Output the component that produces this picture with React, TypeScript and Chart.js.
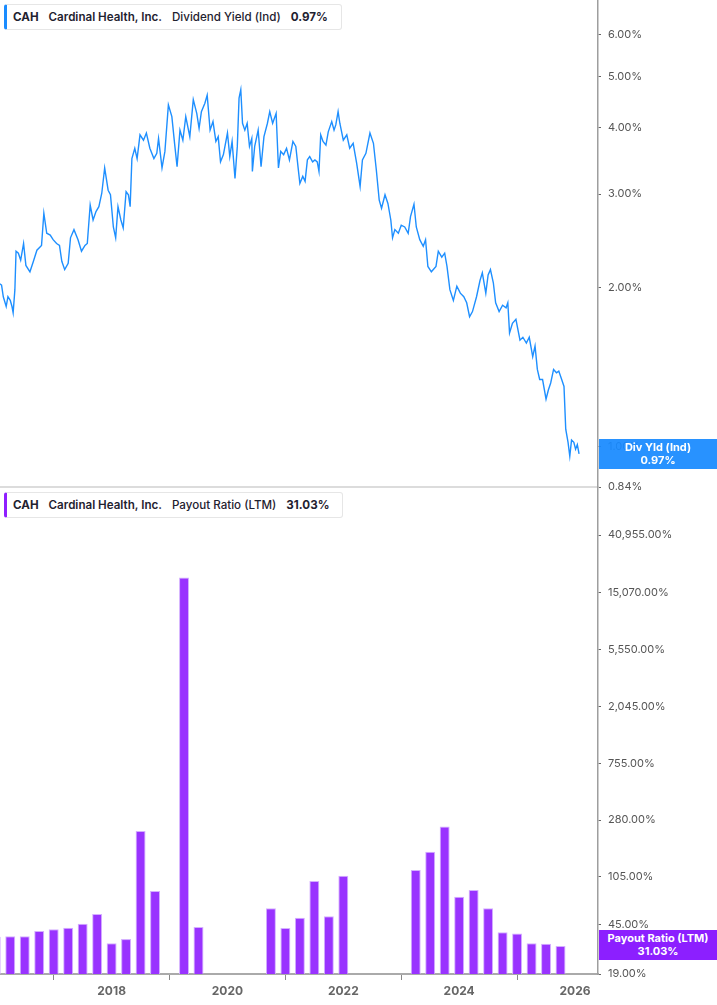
import React, { useEffect, useRef } from "react";
import { Chart, registerables } from "chart.js";

Chart.register(...registerables);

// Dividend yield (Ind), %
const yieldDates = [
  2016.07, 2016.1, 2016.13, 2016.18, 2016.21, 2016.25, 2016.28, 2016.3, 2016.33, 2016.35,
  2016.39, 2016.43, 2016.48, 2016.52, 2016.59, 2016.65, 2016.71, 2016.79, 2016.83, 2016.88,
  2016.94, 2016.99, 2017.05, 2017.1, 2017.14, 2017.19, 2017.25, 2017.29, 2017.35, 2017.42,
  2017.48, 2017.54, 2017.58, 2017.63, 2017.68, 2017.73, 2017.78, 2017.83, 2017.88, 2017.94,
  2017.98, 2018.03, 2018.07, 2018.11, 2018.16, 2018.2, 2018.25, 2018.29, 2018.32, 2018.35,
  2018.4, 2018.44, 2018.49, 2018.55, 2018.6, 2018.66, 2018.73, 2018.78, 2018.81, 2018.87,
  2018.92, 2018.98, 2019.04, 2019.09, 2019.13, 2019.18, 2019.23, 2019.28, 2019.35, 2019.41,
  2019.47, 2019.51, 2019.55, 2019.61, 2019.65, 2019.7, 2019.75, 2019.8, 2019.84, 2019.88,
  2019.93, 2020.0, 2020.04, 2020.08, 2020.13, 2020.17, 2020.2, 2020.23, 2020.26, 2020.3,
  2020.34, 2020.38, 2020.42, 2020.43, 2020.47, 2020.53, 2020.58, 2020.63, 2020.69, 2020.73,
  2020.78, 2020.84, 2020.88, 2020.92, 2020.97, 2021.02, 2021.07, 2021.13, 2021.18, 2021.22,
  2021.25, 2021.3, 2021.34, 2021.38, 2021.42, 2021.47, 2021.51, 2021.55, 2021.58, 2021.61,
  2021.65, 2021.7, 2021.74, 2021.8, 2021.84, 2021.87, 2021.91, 2021.94, 2022.0, 2022.06,
  2022.11, 2022.17, 2022.23, 2022.29, 2022.33, 2022.39, 2022.46, 2022.52, 2022.57, 2022.62,
  2022.66, 2022.72, 2022.77, 2022.82, 2022.85, 2022.89, 2022.95, 2023.0, 2023.06, 2023.12,
  2023.16, 2023.22, 2023.26, 2023.32, 2023.38, 2023.42, 2023.46, 2023.52, 2023.6, 2023.64,
  2023.7, 2023.75, 2023.79, 2023.84, 2023.9, 2023.96, 2024.02, 2024.08, 2024.13, 2024.18,
  2024.23, 2024.3, 2024.36, 2024.4, 2024.46, 2024.5, 2024.54, 2024.59, 2024.63, 2024.69,
  2024.75, 2024.81, 2024.84, 2024.87, 2024.92, 2024.98, 2025.05, 2025.1, 2025.16, 2025.21,
  2025.27, 2025.31, 2025.35, 2025.39, 2025.44, 2025.5, 2025.54, 2025.58, 2025.63, 2025.68,
  2025.72, 2025.77, 2025.81, 2025.84, 2025.88, 2025.91, 2025.94, 2025.98, 2026.01, 2026.04,
  2026.07,
];
const yieldValues = [
  2.03, 2.02, 1.92, 1.84, 1.92, 1.89, 1.84, 1.79, 1.98, 2.34,
  2.32, 2.25, 2.42, 2.2, 2.14, 2.24, 2.35, 2.4, 2.76, 2.53,
  2.51, 2.46, 2.42, 2.4, 2.24, 2.16, 2.22, 2.48, 2.57, 2.46,
  2.34, 2.4, 2.42, 2.86, 2.68, 2.78, 2.84, 3.01, 3.36, 3.05,
  2.99, 2.6, 2.48, 2.84, 2.68, 2.59, 3.03, 2.99, 2.84, 3.5,
  3.66, 3.5, 3.88, 3.79, 3.91, 3.66, 3.5, 3.58, 3.82, 3.36,
  3.61, 4.42, 4.2, 3.71, 3.38, 3.96, 3.79, 4.2, 3.85, 4.52,
  4.26, 3.99, 4.29, 4.45, 4.61, 3.96, 4.11, 3.77, 3.85, 3.45,
  3.56, 3.91, 3.53, 3.77, 3.21, 3.69, 4.55, 4.72, 4.08, 3.96,
  4.08, 3.69, 3.82, 3.31, 3.69, 3.96, 3.38, 3.85, 4.08, 4.29,
  4.08, 4.26, 3.36, 3.61, 3.56, 3.66, 3.48, 3.77, 3.69, 3.36,
  3.14, 3.24, 3.17, 3.48, 3.53, 3.45, 3.48, 3.45, 3.31, 3.88,
  3.77, 3.71, 3.93, 4.11, 3.96, 4.05, 4.29, 4.08, 3.79, 3.88,
  3.66, 3.74, 3.43, 3.1, 3.48, 3.58, 3.91, 3.74, 3.33, 2.92,
  2.82, 2.99, 2.88, 2.68, 2.48, 2.57, 2.53, 2.62, 2.6, 2.53,
  2.72, 2.87, 2.6, 2.46, 2.39, 2.46, 2.19, 2.14, 2.19, 2.34,
  2.28, 2.32, 2.19, 1.98, 1.89, 2.01, 1.95, 1.92, 1.87, 1.76,
  1.8, 1.92, 2.06, 2.13, 1.95, 2.11, 2.16, 2.04, 1.87, 1.8,
  1.85, 1.83, 1.87, 1.64, 1.71, 1.74, 1.59, 1.61, 1.57, 1.61,
  1.48, 1.55, 1.4, 1.34, 1.34, 1.23, 1.28, 1.32, 1.4, 1.38,
  1.39, 1.34, 1.3, 1.08, 1.02, 0.96, 1.03, 1.02, 0.99, 1.01,
  0.97,
];

// Payout ratio (LTM), % — one bar per calendar quarter end, null = no bar
const payoutQuarters = [
  2016.0, 2016.25, 2016.5, 2016.75, 2017.0, 2017.25, 2017.5, 2017.75,
  2018.0, 2018.25, 2018.5, 2018.75, 2019.0, 2019.25, 2019.5, 2019.75,
  2020.0, 2020.25, 2020.5, 2020.75, 2021.0, 2021.25, 2021.5, 2021.75,
  2022.0, 2022.25, 2022.5, 2022.75, 2023.0, 2023.25, 2023.5, 2023.75,
  2024.0, 2024.25, 2024.5, 2024.75, 2025.0, 2025.25, 2025.5, 2025.75,
];
const payoutValues = [
  36.5, 36.8, 36.8, 40.3, 41.5, 42.7, 45.8, 54.2,
  32.5, 35.0, 231.5, 81.1, null, 19523, 43.2, null,
  null, null, null, 59.9, 42.5, 50.8, 96.6, 52.1,
  106.0, null, null, null, null, 117.1, 161.2, 251.0,
  73.4, 82.5, 59.9, 39.4, 38.5, 32.5, 32.3, 31.03,
];

const yieldTicks = [0.84, 1, 2, 3, 4, 5, 6];
const payoutTicks = [19, 45, 105, 280, 755, 2045, 5550, 15070, 40955];
const yearTicks = [2018, 2020, 2022, 2024, 2026];

const X_MIN = 2016.073;
const X_MAX = 2026.397;

const FONT = "Inter, 'Open Sans', 'Noto Sans', sans-serif";
const AXIS_W = 119;

const pct = (v: number) =>
  v.toLocaleString("en-US", { minimumFractionDigits: 2, maximumFractionDigits: 2 }) + "%";

const yAxisCommon = {
  position: "right" as const,
  grid: { drawOnChartArea: false, drawTicks: true, tickLength: 3, color: "#666", lineWidth: 1 },
  border: { display: true, color: "#9e9e9e", width: 1.5 },
  ticks: {
    color: "#555",
    padding: 7,
    font: { family: FONT, size: 11 },
    callback: (v: any) => pct(Number(v)),
  },
  afterFit: (s: any) => {
    s.width = AXIS_W;
    s.paddingTop = 0;
    s.paddingBottom = 0;
  },
};

const YieldChart: React.FC = () => {
  const ref = useRef<HTMLCanvasElement>(null);
  useEffect(() => {
    if (!ref.current) return;
    const chart = new Chart(ref.current, {
      type: "line",
      data: {
        datasets: [
          {
            data: yieldDates.map((d, i) => ({ x: d, y: yieldValues[i] })),
            borderColor: "#1e8fff",
            borderWidth: 1.4,
            pointRadius: 0,
            tension: 0,
            fill: false,
          },
        ],
      },
      options: {
        responsive: false,
        animation: false,
        layout: { padding: { top: 0, bottom: 13, left: 0, right: 0 } },
        plugins: { legend: { display: false }, tooltip: { enabled: false } },
        scales: {
          x: {
            type: "linear",
            min: X_MIN,
            max: X_MAX,
            ticks: { display: false },
            grid: { display: false, drawTicks: false },
            border: { display: true, color: "#dcdcdc", width: 2 },
            afterFit: (s: any) => {
              s.height = 0;
            },
          },
          y: {
            ...yAxisCommon,
            type: "logarithmic",
            min: 0.84,
            max: 6.97,
            afterBuildTicks: (s: any) => {
              s.ticks = yieldTicks.map((value) => ({ value }));
            },
          },
        },
      },
    });
    return () => chart.destroy();
  }, []);
  return (
    <canvas
      ref={ref}
      width={717}
      height={500}
      style={{ position: "absolute", left: 0, top: 0, width: 717, height: 500, zIndex: 2 }}
    />
  );
};

const PayoutChart: React.FC = () => {
  const ref = useRef<HTMLCanvasElement>(null);
  useEffect(() => {
    if (!ref.current) return;
    const chart = new Chart(ref.current, {
      type: "bar",
      data: {
        datasets: [
          {
            data: payoutQuarters.map((q, i) => ({ x: q, y: payoutValues[i] })) as any,
            backgroundColor: "#9933ff",
            borderColor: "#d4b0ff",
            borderWidth: { top: 1, left: 1, right: 1, bottom: 0 },
            borderSkipped: "bottom",
            barPercentage: 0.86,
            categoryPercentage: 0.8,
          },
        ],
      },
      options: {
        responsive: false,
        animation: false,
        layout: { padding: 0 },
        plugins: { legend: { display: false }, tooltip: { enabled: false } },
        scales: {
          x: {
            type: "linear",
            min: X_MIN,
            max: X_MAX,
            offset: false,
            afterBuildTicks: (s: any) => {
              s.ticks = yearTicks.map((value) => ({ value }));
            },
            ticks: {
              color: "#666",
              padding: 4,
              maxRotation: 0,
              font: { family: FONT, size: 12, weight: "bold" },
              callback: (v: any) => String(v),
            },
            grid: { drawOnChartArea: false, drawTicks: true, tickLength: 6, color: "#888" },
            border: { display: true, color: "#aaaaaa", width: 2 },
            afterFit: (s: any) => {
              s.height = 31;
            },
          },
          y: {
            ...yAxisCommon,
            type: "logarithmic",
            min: 19,
            max: 93200,
            afterBuildTicks: (s: any) => {
              s.ticks = payoutTicks.map((value) => ({ value }));
            },
          },
        },
      },
    });
    return () => chart.destroy();
  }, []);
  return (
    <canvas
      ref={ref}
      width={717}
      height={517}
      style={{ position: "absolute", left: 0, top: 488, width: 717, height: 517, zIndex: 1 }}
    />
  );
};

const Legend: React.FC<{ top: number; color: string; metric: string; value: string }> = ({
  top,
  color,
  metric,
  value,
}) => (
  <div
    style={{
      position: "absolute",
      left: 4,
      top,
      height: 26,
      boxSizing: "border-box",
      display: "flex",
      alignItems: "center",
      gap: 10,
      padding: "0 13px 0 6px",
      background: "#fff",
      border: "1px solid #e6e6e6",
      borderLeft: `3px solid ${color}`,
      borderRadius: 3,
      fontFamily: FONT,
      fontSize: 11.6,
      color: "#1f2230",
      zIndex: 5,
      whiteSpace: "nowrap",
    }}
  >
    <span style={{ fontWeight: 700 }}>CAH</span>
    <span style={{ fontWeight: 600 }}>Cardinal Health, Inc.</span>
    <span style={{ fontWeight: 500 }}>{metric}</span>
    <span style={{ fontWeight: 700 }}>{value}</span>
  </div>
);

const ValueTag: React.FC<{ top: number; bg: string; label: string; value: string }> = ({
  top,
  bg,
  label,
  value,
}) => (
  <div
    style={{
      position: "absolute",
      left: 599,
      top,
      width: 118,
      height: 30,
      background: bg,
      color: "#fff",
      fontFamily: FONT,
      fontSize: 11,
      fontWeight: 700,
      lineHeight: "13px",
      display: "flex",
      flexDirection: "column",
      justifyContent: "center",
      alignItems: "center",
      zIndex: 6,
    }}
  >
    <span>{label}</span>
    <span>{value}</span>
  </div>
);

export default function App() {
  return (
    <div
      style={{
        position: "absolute",
        left: 0,
        top: 0,
        width: 717,
        height: 1005,
        background: "#fff",
        overflow: "hidden",
      }}
    >
      <YieldChart />
      <PayoutChart />
      <Legend top={4} color="#1a8cff" metric="Dividend Yield (Ind)" value="0.97%" />
      <Legend top={492} color="#8f1fff" metric="Payout Ratio (LTM)" value="31.03%" />
      <ValueTag top={439} bg="rgba(24,138,255,0.93)" label="Div Yld (Ind)" value="0.97%" />
      <ValueTag top={930} bg="#8c1fff" label="Payout Ratio (LTM)" value="31.03%" />
    </div>
  );
}
